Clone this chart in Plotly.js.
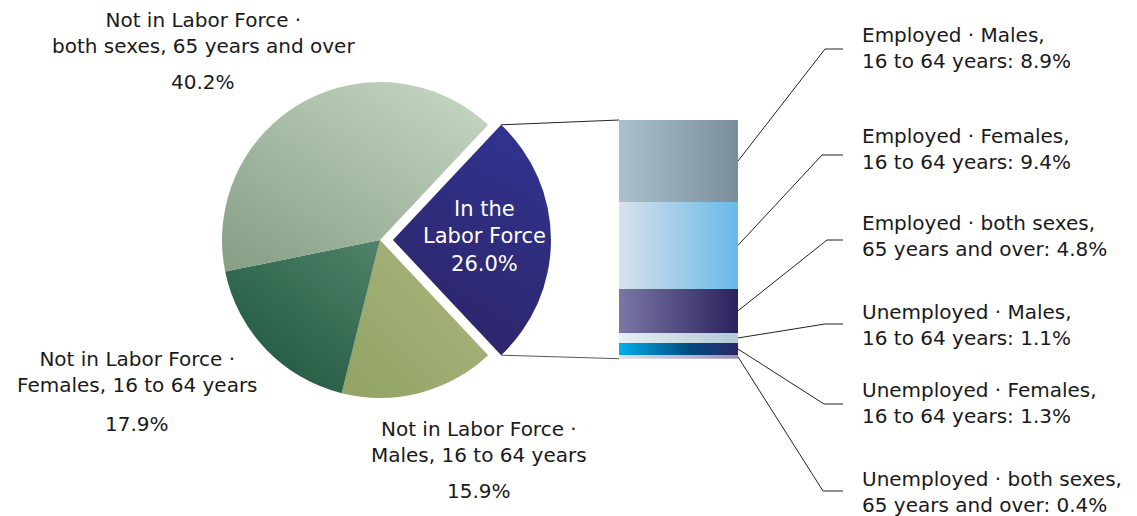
<!DOCTYPE html>
<html>
<head>
<meta charset="utf-8">
<script src="https://cdn.plot.ly/plotly-3.0.1.min.js"></script>
<style>html,body{margin:0;padding:0;background:#fff;}#chart{width:1137px;height:516px;}</style>
</head>
<body>
<div id="chart"></div>
<script>
// ---------- DATA ----------
const pieLabels = ['In the Labor Force', 'Not in Labor Force · Males, 16 to 64 years', 'Not in Labor Force · Females, 16 to 64 years', 'Not in Labor Force · both sexes, 65 years and over'];
const pieLabelLine1 = ['In the', 'Not in Labor Force ·', 'Not in Labor Force ·', 'Not in Labor Force ·'];
const pieLabelLine2 = ['Labor Force', 'Males, 16 to 64 years', 'Females, 16 to 64 years', 'both sexes, 65 years and over'];
const pieValues = [26.0, 15.9, 17.9, 40.2];

// stacked bar, bottom segment first
const barLine1 = ['Unemployed · both sexes,', 'Unemployed · Females,', 'Unemployed · Males,', 'Employed · both sexes,', 'Employed · Females,', 'Employed · Males,'];
const barLine2 = ['65 years and over', '16 to 64 years', '16 to 64 years', '65 years and over', '16 to 64 years', '16 to 64 years'];
const barValues = [0.4, 1.3, 1.1, 4.8, 9.4, 8.9];

// ---------- STYLE ----------
const W = 1137, H = 516;
const px = v => v / W, py = v => 1 - v / H;
const pieSolid = ['#2e2c7e', '#9ba970', '#2f6a50', '#a9bea7'];
const pieGrad = [
  [['#31338f', 0], ['#2d2467', 1], [0.7, 0, 0.3, 1]],
  [['#a8b57d', 0], ['#94a466', 1], [0.9, 0.1, 0.1, 0.9]],
  [['#4f8068', 0], ['#1b553c', 1], [0.9, 0, 0.1, 1]],
  [['#c7d7c5', 0], ['#869f85', 1], [0.95, 0, 0.05, 1]]
];
const barSolid = ['#bdb8d2', '#0a5c92', '#c8dbe3', '#504c82', '#9bc8e6', '#91a6b3'];
const barGrad = [
  [['#e0e0ec', 0], ['#9a90b8', 1]],
  [['#00aeea', 0], ['#004a80', 0.6], ['#2c2868', 1]],
  [['#e6eff3', 0], ['#b3cad4', 1]],
  [['#7a77a4', 0], ['#2b225e', 1]],
  [['#d8e1ea', 0], ['#69b9e8', 1]],
  [['#abc1ce', 0], ['#7a8e9a', 1]]
];
const font = 'DejaVu Sans, Arial, sans-serif';
const txtColor = '#1a1a1a';

// pie geometry
const pieCx = 380, pieCy = 240, pieR = 158, pull = 0.082;
const box = 2 * pieR * (1 + pull);
const pieTotal = pieValues.reduce((a, b) => a + b, 0);
const rotation = 90 - (pieValues[0] / pieTotal) * 180;

// bar geometry
const barX0 = 619, barX1 = 738, barTop = 120, barBot = 358.7;
const barTotal = barValues.reduce((a, b) => a + b, 0);
const yDom = [py(barBot), py(barTop)];
const dataToPy = v => yDom[0] + (v / barTotal) * (yDom[1] - yDom[0]);

const traces = [{
  type: 'pie',
  labels: pieLabels,
  values: pieValues,
  sort: false,
  direction: 'clockwise',
  rotation: rotation,
  pull: [pull, 0, 0, 0],
  marker: {colors: pieSolid, line: {width: 0}},
  textinfo: 'none',
  hoverinfo: 'none',
  showlegend: false,
  domain: {x: [px(pieCx - box / 2), px(pieCx + box / 2)], y: [py(pieCy + box / 2), py(pieCy - box / 2)]}
}];
barValues.forEach((v, i) => {
  traces.push({
    type: 'bar', x: ['LF'], y: [v], width: [1],
    marker: {color: barSolid[i], line: {width: 0}},
    hoverinfo: 'none', showlegend: false, xaxis: 'x', yaxis: 'y'
  });
});

const annotations = [];
const shapes = [];
// pie labels (outside)
const pieLabelPos = [null, [479, 441.5, 491], [137, 372, 424], [203, 32.5, 82]];
for (let i = 1; i < pieValues.length; i++) {
  const p = pieLabelPos[i];
  annotations.push({xref: 'paper', yref: 'paper', x: px(p[0]), y: py(p[1]), xanchor: 'center', yanchor: 'middle',
    text: pieLabelLine1[i] + '<br>' + pieLabelLine2[i], showarrow: false, font: {family: font, size: 20, color: txtColor}});
  annotations.push({xref: 'paper', yref: 'paper', x: px(p[0]), y: py(p[2]), xanchor: 'center', yanchor: 'middle',
    text: pieValues[i].toFixed(1) + '%', showarrow: false, font: {family: font, size: 20, color: txtColor}});
}
annotations.push({xref: 'paper', yref: 'paper', x: px(484), y: py(236.5), xanchor: 'center', yanchor: 'middle',
  text: pieLabelLine1[0] + '<br>' + pieLabelLine2[0] + '<br>' + pieValues[0].toFixed(1) + '%', showarrow: false,
  font: {family: font, size: 21, color: '#ffffff'}});

// bar labels + leaders
const labelCy = [491.5, 402.5, 324.5, 236.5, 148.5, 48.5];
const elbowY = [491, 404, 324, 240, 155, 49];
const elbowX = [823, 824, 825, 827, 822, 825];
let cum = 0;
barValues.forEach((v, i) => {
  const mid = cum + v / 2; cum += v;
  annotations.push({xref: 'paper', yref: 'paper', x: px(860), y: py(labelCy[i]), xanchor: 'left', yanchor: 'middle', align: 'left',
    text: barLine1[i] + '<br>' + barLine2[i] + ': ' + v.toFixed(1) + '%', showarrow: false,
    font: {family: font, size: 20, color: txtColor}});
  shapes.push({type: 'path', xref: 'paper', yref: 'paper',
    path: 'M' + px(barX1) + ',' + dataToPy(mid) + ' L' + px(elbowX[i]) + ',' + py(elbowY[i]) + ' L' + px(843) + ',' + py(elbowY[i]),
    line: {color: '#222', width: 1}});
});
// connector from exploded slice to bar
const halfAng = (pieValues[0] / pieTotal) * Math.PI;
const ecx = pieCx + pieR * pull, r = pieR;
const tipTopX = ecx + r * Math.cos(halfAng), tipTopY = pieCy - r * Math.sin(halfAng);
const tipBotY = pieCy + r * Math.sin(halfAng);
shapes.push({type: 'line', xref: 'paper', yref: 'paper', x0: px(tipTopX), y0: py(tipTopY), x1: px(barX0), y1: dataToPy(barTotal), line: {color: '#222', width: 1}});
shapes.push({type: 'line', xref: 'paper', yref: 'paper', x0: px(tipTopX), y0: py(tipBotY), x1: px(barX0), y1: dataToPy(0), line: {color: '#555', width: 1}});

const layout = {
  width: W, height: H,
  margin: {l: 0, r: 0, t: 0, b: 0},
  paper_bgcolor: '#fff', plot_bgcolor: 'rgba(0,0,0,0)',
  barmode: 'stack', bargap: 0,
  xaxis: {domain: [px(barX0), px(barX1)], range: [-0.5, 0.5], type: 'category', visible: false, fixedrange: true},
  yaxis: {domain: yDom, range: [0, barTotal], visible: false, fixedrange: true},
  annotations: annotations,
  shapes: shapes,
  showlegend: false
};

const gd = document.getElementById('chart');
Plotly.newPlot(gd, traces, layout, {displayModeBar: false, staticPlot: true}).then(() => {
  const NS = 'http://www.w3.org/2000/svg';
  const svg = gd.querySelector('svg.main-svg');
  const defs = document.createElementNS(NS, 'defs');
  svg.insertBefore(defs, svg.firstChild);
  function mkGrad(id, stops, dir) {
    const g = document.createElementNS(NS, 'linearGradient');
    g.setAttribute('id', id);
    const d = dir || [0, 0, 1, 0];
    g.setAttribute('x1', d[0]); g.setAttribute('y1', d[1]); g.setAttribute('x2', d[2]); g.setAttribute('y2', d[3]);
    stops.forEach(s => {
      const st = document.createElementNS(NS, 'stop');
      st.setAttribute('offset', s[1]); st.setAttribute('stop-color', s[0]);
      g.appendChild(st);
    });
    defs.appendChild(g);
  }
  const slices = gd.querySelectorAll('g.slice path.surface');
  slices.forEach((p, i) => {
    const gg = pieGrad[i];
    mkGrad('pg' + i, gg.slice(0, gg.length - 1), gg[gg.length - 1]);
    p.style.fill = 'url(#pg' + i + ')';
  });
  const bars = gd.querySelectorAll('.barlayer .trace');
  bars.forEach((t, i) => {
    mkGrad('bg' + i, barGrad[i]);
    t.querySelectorAll('path').forEach(p => { p.style.fill = 'url(#bg' + i + ')'; });
  });
});
</script>
</body>
</html>
